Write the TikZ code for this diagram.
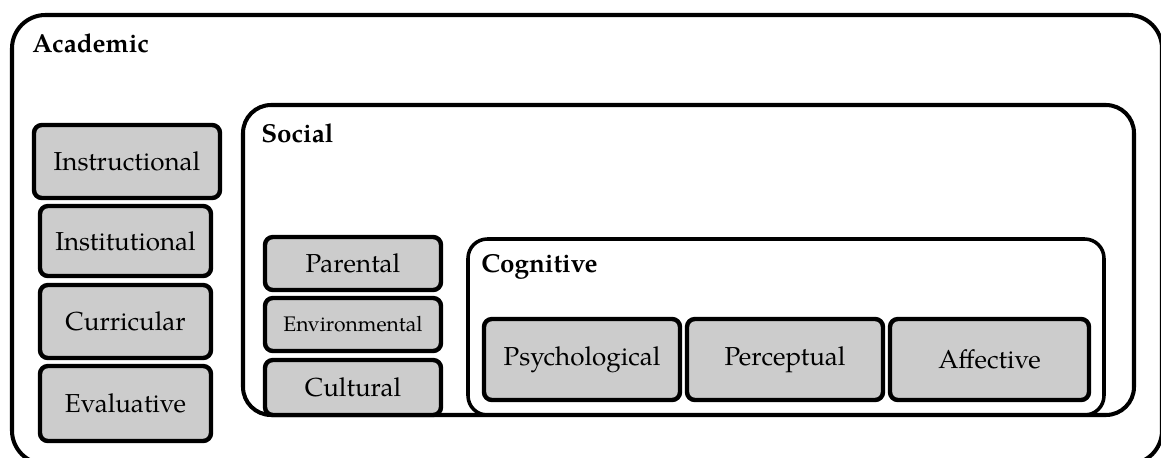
\documentclass[tikz,border=0pt]{standalone}
\usepackage{fontspec}
\setmainfont{TeX Gyre Pagella}
\usetikzlibrary{positioning}
\definecolor{boxgray}{HTML}{CCCCCC}

\begin{document}
\begin{tikzpicture}[
      x=0.02cm, y=-0.02cm,
      facet/.style={draw, fill=boxgray, rounded corners=4.5pt, line width=2.5pt, inner sep=0pt, font=\fontsize{14.8}{17}\selectfont},
      wh/.style 2 args={minimum width=#1*0.02cm, minimum height=#2*0.02cm},
      panel/.style={draw, line width=2.3pt, rounded corners=#1},
      heading/.style={anchor=base west, inner sep=0pt, font=\bfseries\fontsize{14.8}{17}\selectfont}
    ]
      \useasboundingbox (0,0) rectangle (1161,457);

      % nested frames
      \draw[panel=19pt] (12,15) rectangle (1162,464);
      \draw[panel=16pt] (243,105) rectangle (1134,415);
      \draw[panel=11pt, line width=2pt] (468,239) rectangle (1104,415);

      \node[heading] (academic) at (32,52) {Academic};
      \node[heading] (social) at (261,142) {Social};
      \node[heading] (cognitive) at (481,272) {Cognitive};

      % academic column
      \node[facet, wh={186}{73}] (instructional) at (127,161.5) {Instructional};
      \node[facet, wh={171}{70}] (institutional) at (125.5,241) {Institutional};
      \node[facet, wh={171}{73}] (curricular) at (125.5,321.5) {Curricular};
      \node[facet, wh={171}{75}] (evaluative) at (125.5,403.5) {Evaluative};

      % social column
      \node[facet, wh={176}{53}] (parental) at (353,263.5) {Parental};
      \node[facet, wh={176}{53}, font=\fontsize{12}{14}\selectfont] (environmental) at (353,324.5) {Environmental};
      \node[facet, wh={176}{55}] (cultural) at (353,387.5) {Cultural};

      % cognitive row
      \node[facet, wh={196}{81}] (psychological) at (582,359.5) {Psychological};
      \node[facet, wh={196}{81}] (perceptual) at (785,359.5) {Perceptual};
      \node[facet, wh={199}{81}] (affective) at (989.5,359.5) {Affective};
    \end{tikzpicture}
\end{document}
